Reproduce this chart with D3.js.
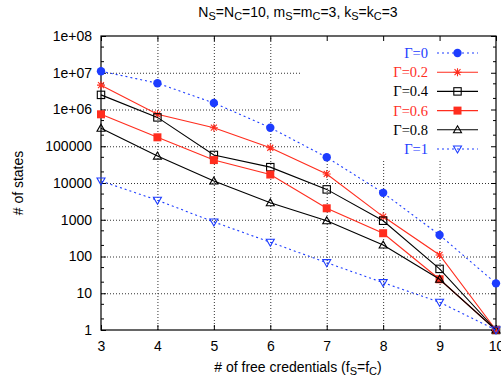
<!DOCTYPE html>
<html>
<head>
<meta charset="utf-8">
<script src="https://cdn.jsdelivr.net/npm/d3@7"></script>
<style>
  body { margin: 0; background: #fff; }
  svg { display: block; font-family: "Liberation Sans", Arial, sans-serif; }
</style>
</head>
<body>
<svg width="501" height="379"></svg>
<script>
// x values: number of free credentials
var credentials = [3, 4, 5, 6, 7, 8, 9, 10];
// one array per gamma
var gamma0 = [1.1e7, 5.2e6, 1.5e6, 3.2e5, 5.0e4, 5.4e3, 385, 18.6];
var gamma02 = [4.6e6, 7.4e5, 3.2e5, 9.1e4, 1.76e4, 1.22e3, 110, 1];
var gamma04 = [2.5e6, 6.1e5, 5.8e4, 2.7e4, 6.7e3, 940, 46, 1];
var gamma06 = [7.4e5, 1.75e5, 4.2e4, 1.7e4, 2.05e3, 430, 24, 1];
var gamma08 = [3.1e5, 5.4e4, 1.13e4, 2.9e3, 940, 205, 24, 1];
var gamma1 = [1.13e4, 3.4e3, 870, 245, 68, 19.4, 5.7, 1];
var seriesNames = ['Γ=0', 'Γ=0.2', 'Γ=0.4', 'Γ=0.6', 'Γ=0.8', 'Γ=1'];
var yTickValues = [1, 10, 100, 1000, 10000, 100000, 1e6, 1e7, 1e8];
var yTickLabels = ['1', '10', '100', '1000', '10000', '100000', '1e+06', '1e+07', '1e+08'];

var blue = '#1d3cff', red = '#ff2d1e';
var series = [
  { name: seriesNames[0], values: gamma0, color: blue, dash: '2,3', marker: 'circle' },
  { name: seriesNames[1], values: gamma02, color: red, dash: null, marker: 'star' },
  { name: seriesNames[2], values: gamma04, color: '#000', dash: null, marker: 'openSquare' },
  { name: seriesNames[3], values: gamma06, color: red, dash: null, marker: 'square' },
  { name: seriesNames[4], values: gamma08, color: '#000', dash: null, marker: 'triangle' },
  { name: seriesNames[5], values: gamma1, color: blue, dash: '2,3', marker: 'downTriangle' }
];

var svg = d3.select('svg');
var area = { left: 101, right: 496, top: 36, bottom: 330 };

var x = d3.scaleLinear().domain([3, 10]).range([area.left, area.right]);
var y = d3.scaleLog().domain([1, 1e8]).range([area.bottom, area.top]);

// grid
var grid = svg.append('g').attr('class', 'grid');
grid.append('g')
  .attr('transform', 'translate(' + area.left + ',0)')
  .call(d3.axisLeft(y).tickValues(yTickValues.slice(1, -1)).tickSize(-(area.right - area.left)).tickFormat(''));
grid.append('g')
  .attr('transform', 'translate(0,' + area.bottom + ')')
  .call(d3.axisBottom(x).tickValues(credentials.slice(1, -1)).tickSize(-(area.bottom - area.top)).tickFormat(''));
grid.selectAll('.domain').remove();
grid.selectAll('line').attr('stroke', '#333').attr('stroke-dasharray', '1,2').attr('stroke-width', 1);

// key box hides the grid behind it
svg.append('rect').attr('x', 300).attr('y', area.top + 1).attr('width', area.right - 301).attr('height', 123).attr('fill', '#fff');

// minor ticks on the log axis (2 and 5 in each decade)
var minor = [];
yTickValues.slice(0, -1).forEach(function (v) { minor.push(v * 2, v * 5); });
svg.append('g').selectAll('line').data(minor).enter().append('line')
  .attr('x1', area.left).attr('x2', area.left + 3)
  .attr('y1', function (d) { return y(d); }).attr('y2', function (d) { return y(d); })
  .attr('stroke', '#000');
svg.append('g').selectAll('line').data(minor).enter().append('line')
  .attr('x1', area.right).attr('x2', area.right - 3)
  .attr('y1', function (d) { return y(d); }).attr('y2', function (d) { return y(d); })
  .attr('stroke', '#000');

// axes
var yAxis = svg.append('g')
  .attr('transform', 'translate(' + area.left + ',0)')
  .call(d3.axisLeft(y).tickValues(yTickValues).tickSize(-5).tickPadding(9)
    .tickFormat(function (d, i) { return yTickLabels[i]; }));
var yAxisR = svg.append('g')
  .attr('transform', 'translate(' + area.right + ',0)')
  .call(d3.axisRight(y).tickValues(yTickValues).tickSize(-5).tickFormat(''));
var xAxis = svg.append('g')
  .attr('transform', 'translate(0,' + area.bottom + ')')
  .call(d3.axisBottom(x).tickValues(credentials).tickSize(-5).tickPadding(11).tickFormat(d3.format('d')));
var xAxisT = svg.append('g')
  .attr('transform', 'translate(0,' + area.top + ')')
  .call(d3.axisTop(x).tickValues(credentials).tickSize(-5).tickFormat(''));
[yAxis, yAxisR, xAxis, xAxisT].forEach(function (a) {
  a.selectAll('.domain').remove();
  a.selectAll('text').attr('font-size', 14).attr('fill', '#000').attr('font-family', '"Liberation Sans", Arial, sans-serif');
});

// frame
svg.append('rect')
  .attr('x', area.left).attr('y', area.top)
  .attr('width', area.right - area.left).attr('height', area.bottom - area.top)
  .attr('fill', 'none').attr('stroke', '#000').attr('stroke-width', 1.2);

function drawMarker(g, type, color) {
  if (type === 'circle') {
    g.append('circle').attr('r', 4.2).attr('fill', color);
  } else if (type === 'square') {
    g.append('rect').attr('x', -4).attr('y', -4).attr('width', 8).attr('height', 8).attr('fill', color);
  } else if (type === 'openSquare') {
    g.append('rect').attr('x', -3.7).attr('y', -3.7).attr('width', 7.4).attr('height', 7.4).attr('fill', 'none').attr('stroke', color).attr('stroke-width', 1.1);
  } else if (type === 'triangle') {
    g.append('path').attr('d', 'M0,-4L4,3L-4,3Z').attr('fill', 'none').attr('stroke', color).attr('stroke-width', 1.1);
  } else if (type === 'downTriangle') {
    g.append('path').attr('d', 'M0,4L4,-3L-4,-3Z').attr('fill', 'none').attr('stroke', color).attr('stroke-width', 1.1);
  } else if (type === 'star') {
    g.append('path').attr('d', 'M-4,0H4M0,-4V4M-3,-3L3,3M-3,3L3,-3').attr('stroke', color).attr('stroke-width', 1.1);
  }
}

var line = d3.line()
  .x(function (d, i) { return x(credentials[i]); })
  .y(function (d) { return y(d); });

series.forEach(function (s) {
  svg.append('path')
    .datum(s.values)
    .attr('d', line)
    .attr('fill', 'none')
    .attr('stroke', s.color)
    .attr('stroke-width', 1.1)
    .attr('stroke-dasharray', s.dash);
  s.values.forEach(function (v, i) {
    var g = svg.append('g').attr('transform', 'translate(' + x(credentials[i]) + ',' + y(v) + ')');
    drawMarker(g, s.marker, s.color);
  });
});

// legend
var legend = svg.append('g');
series.forEach(function (s, i) {
  var ly = 53 + i * 19.2;
  legend.append('text')
    .attr('x', 428).attr('y', ly + 5)
    .attr('text-anchor', 'end')
    .attr('font-family', '"Liberation Serif", "Times New Roman", serif')
    .attr('font-size', 14.5)
    .attr('fill', s.color)
    .text(s.name);
  legend.append('line')
    .attr('x1', 437).attr('x2', 478).attr('y1', ly).attr('y2', ly)
    .attr('stroke', s.color).attr('stroke-width', 1.1)
    .attr('stroke-dasharray', s.dash);
  drawMarker(legend.append('g').attr('transform', 'translate(457.5,' + ly + ')'), s.marker, s.color);
});

// title and axis labels
var title = svg.append('text').attr('x', 298).attr('y', 17).attr('text-anchor', 'middle').attr('font-size', 14);
[['N', ''], ['S', 'sub'], ['=N', ''], ['C', 'sub'], ['=10, m', ''], ['S', 'sub'], ['=m', ''], ['C', 'sub'],
 ['=3, k', ''], ['S', 'sub'], ['=k', ''], ['C', 'sub'], ['=3', '']].forEach(function (p, i, arr) {
  var t = title.append('tspan').text(p[0]);
  if (p[1] === 'sub') t.attr('font-size', 11).attr('dy', 3);
  else if (i > 0 && arr[i - 1][1] === 'sub') t.attr('dy', -3);
});

var xl = svg.append('text').attr('x', 298).attr('y', 372).attr('text-anchor', 'middle').attr('font-size', 14);
xl.append('tspan').text('# of free credentials (f');
xl.append('tspan').text('S').attr('font-size', 11).attr('dy', 3);
xl.append('tspan').text('=f').attr('dy', -3);
xl.append('tspan').text('C').attr('font-size', 11).attr('dy', 3);
xl.append('tspan').text(')').attr('dy', -3);

svg.append('text')
  .attr('transform', 'translate(23,183) rotate(-90)')
  .attr('text-anchor', 'middle')
  .attr('font-size', 14)
  .text('# of states');
</script>
</body>
</html>
